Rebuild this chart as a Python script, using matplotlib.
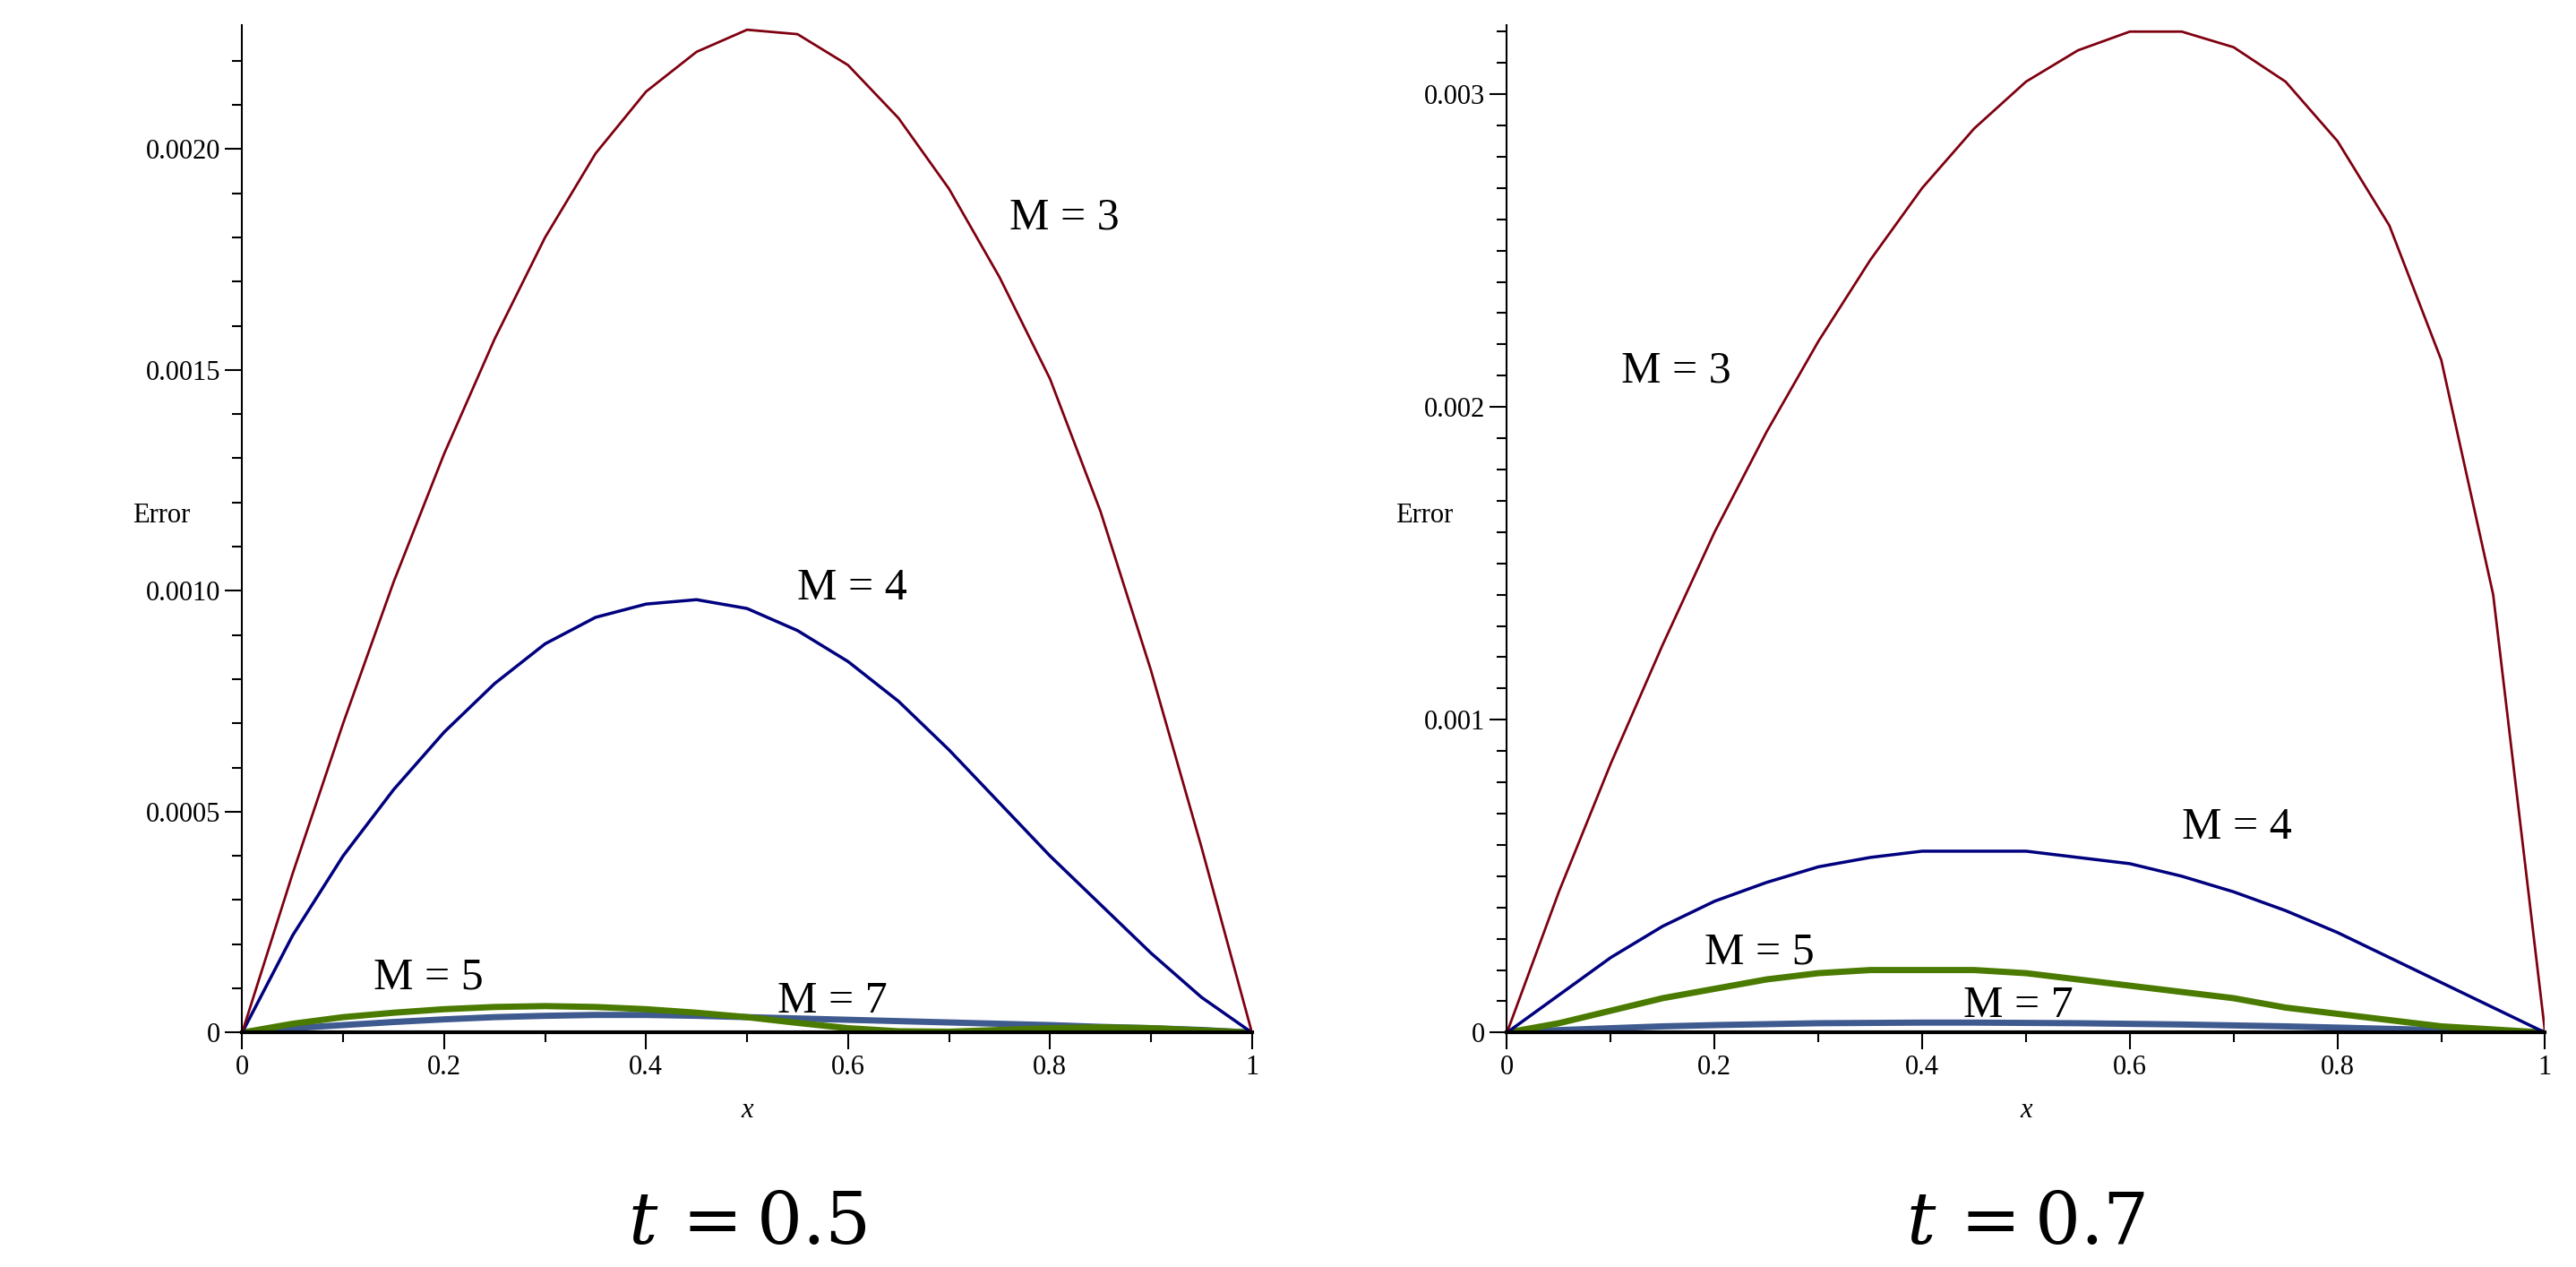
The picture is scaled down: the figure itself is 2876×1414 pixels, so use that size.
import matplotlib.pyplot as plt
from matplotlib.ticker import MultipleLocator, FuncFormatter

# sample points along x
x = [0, 0.05, 0.1, 0.15, 0.2, 0.25, 0.3, 0.35, 0.4, 0.45, 0.5,
     0.55, 0.6, 0.65, 0.7, 0.75, 0.8, 0.85, 0.9, 0.95, 1.0]

# t = 0.5
err_05_m3 = [0, 0.00036, 0.00070, 0.00102, 0.00131, 0.00157, 0.00180, 0.00199, 0.00213, 0.00222, 0.00227,
             0.00226, 0.00219, 0.00207, 0.00191, 0.00171, 0.00148, 0.00118, 0.00082, 0.00042, 0]
err_05_m4 = [0, 0.00022, 0.00040, 0.00055, 0.00068, 0.00079, 0.00088, 0.00094, 0.00097, 0.00098, 0.00096,
             0.00091, 0.00084, 0.00075, 0.00064, 0.00052, 0.00040, 0.00029, 0.00018, 0.00008, 0]
err_05_m5 = [0, 0.00002, 0.000035, 0.000045, 0.000053, 0.000058, 0.00006, 0.000058, 0.000053, 0.000045, 0.000035,
             0.000022, 0.00001, 0.000003, 0.000002, 0.000006, 0.00001, 0.000012, 0.00001, 0.000005, 0]
err_05_m7 = [0, 0.00001, 0.000017, 0.000024, 0.00003, 0.000035, 0.000038, 0.00004, 0.00004, 0.000038, 0.000035,
             0.000032, 0.000029, 0.000026, 0.000023, 0.00002, 0.000017, 0.000013, 0.00001, 0.000006, 0]

# t = 0.7
err_07_m3 = [0, 0.00045, 0.00086, 0.00124, 0.00160, 0.00192, 0.00221, 0.00247, 0.00270, 0.00289, 0.00304,
             0.00314, 0.00320, 0.00320, 0.00315, 0.00304, 0.00285, 0.00258, 0.00215, 0.00140, 0]
err_07_m4 = [0, 0.00012, 0.00024, 0.00034, 0.00042, 0.00048, 0.00053, 0.00056, 0.00058, 0.00058, 0.00058,
             0.00056, 0.00054, 0.00050, 0.00045, 0.00039, 0.00032, 0.00024, 0.00016, 0.00008, 0]
err_07_m5 = [0, 0.00003, 0.00007, 0.00011, 0.00014, 0.00017, 0.00019, 0.0002, 0.0002, 0.0002, 0.00019,
             0.00017, 0.00015, 0.00013, 0.00011, 0.00008, 0.00006, 0.00004, 0.00002, 0.00001, 0]
err_07_m7 = [0, 0.000008, 0.000014, 0.00002, 0.000024, 0.000027, 0.00003, 0.000031, 0.000032, 0.000032, 0.000031,
             0.00003, 0.000028, 0.000026, 0.000023, 0.00002, 0.000016, 0.000012, 0.000008, 0.000004, 0]

colors = {'M = 3': '#7f0010', 'M = 4': '#00007f', 'M = 5': '#4a7a00', 'M = 7': '#3f5a8f'}
widths = {'M = 3': 2, 'M = 4': 2.5, 'M = 5': 5, 'M = 7': 5}

panels = [
    ('$t\\, =0.5$', [err_05_m3, err_05_m4, err_05_m5, err_05_m7], 0.00228, 0.0005, 0.0001,
     [(0.76, 0.00182), (0.55, 0.00098), (0.13, 0.00010), (0.53, 0.000045)], '%.4f'),
    ('$t\\, =0.7$', [err_07_m3, err_07_m4, err_07_m5, err_07_m7], 0.00322, 0.001, 0.0001,
     [(0.11, 0.00208), (0.65, 0.00062), (0.19, 0.00022), (0.44, 0.00005)], '%.3f'),
]
labels = ['M = 3', 'M = 4', 'M = 5', 'M = 7']
serif = 'Liberation Serif'

fig = plt.figure(figsize=(28.76, 14.14), dpi=100)
rects = [[0.094, 0.185, 0.392, 0.795], [0.585, 0.185, 0.403, 0.795]]

for rect, (title, series, ytop, major, minor, pos, fmt) in zip(rects, panels):
    ax = fig.add_axes(rect)
    for lab, y in zip(labels[::-1], series[::-1]):
        ax.plot(x, y, color=colors[lab], lw=widths[lab])
    for lab, (px, py) in zip(labels, pos):
        ax.text(px, py, lab, fontsize=36, family=serif)
    ax.set_xlim(0, 1.0)
    ax.set_ylim(0, ytop)
    ax.spines['top'].set_visible(False)
    ax.spines['right'].set_visible(False)
    ax.spines['left'].set_linewidth(1.5)
    ax.spines['bottom'].set_linewidth(3)
    ax.xaxis.set_major_locator(MultipleLocator(0.2))
    ax.xaxis.set_minor_locator(MultipleLocator(0.1))
    ax.yaxis.set_major_locator(MultipleLocator(major))
    ax.yaxis.set_minor_locator(MultipleLocator(minor))
    ax.xaxis.set_major_formatter(FuncFormatter(lambda v, p: '0' if v == 0 else ('1' if v == 1 else '%g' % v)))
    ax.yaxis.set_major_formatter(FuncFormatter(lambda v, p, f=fmt: '0' if v == 0 else f % v))
    ax.tick_params(which='major', length=14, width=1.5, labelsize=22)
    ax.tick_params(which='minor', length=8, width=1.5)
    for t in ax.get_xticklabels() + ax.get_yticklabels():
        t.set_family(serif)
    ax.set_xlabel('x', fontsize=22, family=serif, style='italic', labelpad=14)
    ax.set_ylabel('Error', fontsize=22, family=serif, rotation=0, labelpad=60)
    ax.yaxis.set_label_coords(-0.08, 0.5)
    ax.text(0.5, -0.19, title, transform=ax.transAxes, ha='center', va='center', fontsize=58,
            math_fontfamily='dejavuserif')

fig.savefig('out.png', dpi=100)
